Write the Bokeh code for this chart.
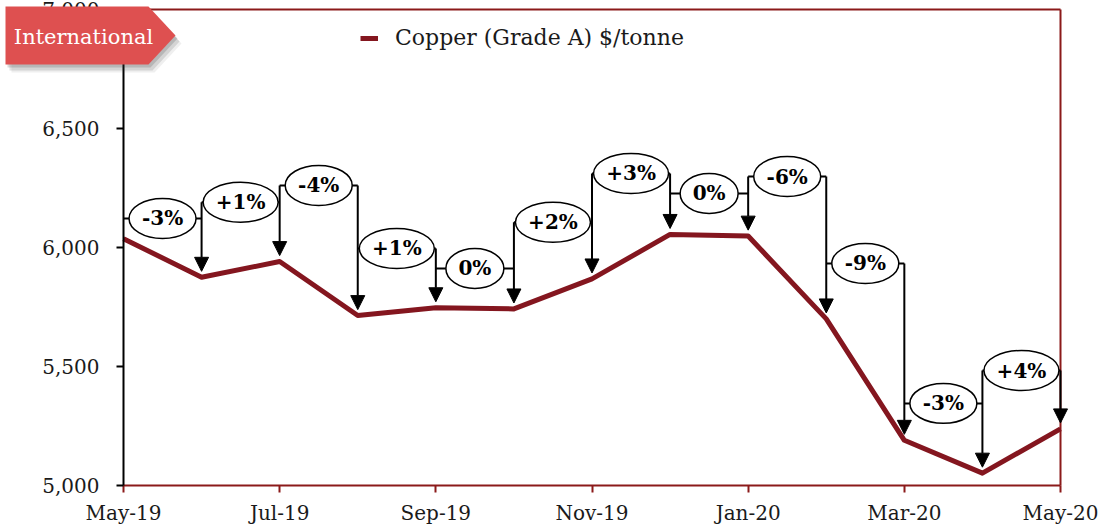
from bokeh.plotting import figure
from bokeh.models import (Range1d, FixedTicker, ColumnDataSource, Arrow, NormalHead,
                          Label, NumeralTickFormatter, PolyAnnotation)
from bokeh.core.properties import value
from bokeh.embed import file_html
from bokeh.resources import INLINE

# ---- data ----
months = ["May-19", "Jun-19", "Jul-19", "Aug-19", "Sep-19", "Oct-19", "Nov-19",
          "Dec-19", "Jan-20", "Feb-20", "Mar-20", "Apr-20", "May-20"]
copper = [6037, 5875, 5941, 5714, 5747, 5742, 5868, 6055, 6048, 5700, 5190, 5052, 5238]
pct_labels = ["-3%", "+1%", "-4%", "+1%", "0%", "+2%", "+3%", "0%", "-6%", "-9%", "-3%", "+4%"]
label_levels = [6122, 6190, 6261, 5996, 5912, 6106, 6311, 6227, 6298, 5933, 5345, 5483]
y_ticks = [5000, 5500, 6000, 6500, 7000]
series_name = "Copper (Grade A) $/tonne"
badge_text = "International"

FONT = "DejaVu Serif"
DARKRED = "#8B1A1A"
LINECOL = "#84161F"
BADGE = "#DE5050"

# ---- layout (pixels) ----
W, H = 1103, 525
X0_PX, X1_PX = 123, 1060      # pixel of first / last month
Y_TOP_PX, Y_BOT_PX = 9, 485   # pixel of 7000 / 5000
YMIN, YMAX = 5000, 7000

x = list(range(len(months)))
nx = len(months) - 1
ppx = (X1_PX - X0_PX) / nx
ppy = (Y_BOT_PX - Y_TOP_PX) / (YMAX - YMIN)
x_start = -X0_PX / ppx
x_end = nx + (W - X1_PX) / ppx
y_end = YMAX + Y_TOP_PX / ppy
y_start = YMIN - (H - Y_BOT_PX) / ppy


def px2x(px):
    return x_start + px / ppx


def py2y(py):
    return y_end - py / ppy


p = figure(width=W, height=H, x_range=Range1d(x_start, x_end),
           y_range=Range1d(y_start, y_end), output_backend="svg", toolbar_location=None,
           min_border=0)

p.xgrid.visible = False
p.ygrid.visible = False
p.outline_line_color = None
p.background_fill_color = "white"
p.border_fill_color = "white"

# axes (drawn at fixed data locations)
p.yaxis.fixed_location = 0
p.yaxis.bounds = (YMIN, YMAX)
p.yaxis.ticker = FixedTicker(ticks=y_ticks)
p.yaxis.formatter = NumeralTickFormatter(format="0,0")
p.yaxis.axis_line_color = "black"
p.yaxis.axis_line_width = 2
p.yaxis.major_tick_line_color = "black"
p.yaxis.major_tick_line_width = 2
p.yaxis.major_tick_out = 7
p.yaxis.major_tick_in = 0
p.yaxis.minor_tick_line_color = None
p.yaxis.major_label_standoff = 17
p.yaxis.major_label_text_font = FONT
p.yaxis.major_label_text_font_size = "20px"
p.yaxis.major_label_text_color = "#1a1a1a"

p.xaxis.fixed_location = YMIN
p.xaxis.bounds = (0, nx)
p.xaxis.ticker = FixedTicker(ticks=x[::2])
p.xaxis.major_label_overrides = {i: months[i] for i in x[::2]}
p.xaxis.axis_line_color = DARKRED
p.xaxis.axis_line_width = 2
p.xaxis.major_tick_line_color = DARKRED
p.xaxis.major_tick_line_width = 2
p.xaxis.major_tick_out = 7
p.xaxis.major_tick_in = 0
p.xaxis.minor_tick_line_color = None
p.xaxis.major_label_standoff = 8
p.xaxis.major_label_text_font = FONT
p.xaxis.major_label_text_font_size = "20px"
p.xaxis.major_label_text_color = "#1a1a1a"

# plot-area border (top and right)
p.segment(x0=[0, nx], y0=[YMAX, YMIN], x1=[nx, nx], y1=[YMAX, YMAX],
          line_color=DARKRED, line_width=2)

# main line
p.line(x, copper, line_color=LINECOL, line_width=5, line_join="round", legend_label=series_name)

# brackets: horizontal segments
n = len(pct_labels)
p.segment(x0=[i for i in range(n)], y0=label_levels, x1=[i + 1 for i in range(n)],
          y1=label_levels, line_color="black", line_width=2)

# vertical arrows at each point j>=1
tip_gap = 25
xs_a, ys_start, ys_end = [], [], []
for j in range(1, len(months)):
    tops = [label_levels[j - 1]]
    if j < n:
        tops.append(label_levels[j])
    xs_a.append(j)
    ys_start.append(max(tops))
    ys_end.append(copper[j] + tip_gap)
asrc = ColumnDataSource(dict(x=xs_a, ys=ys_start, ye=ys_end))
p.add_layout(Arrow(end=NormalHead(size=14, fill_color="black", line_color="black", line_width=1),
                   x_start="x", y_start="ys", x_end="x", y_end="ye", source=asrc,
                   line_color="black", line_width=2))

# ellipses with labels
cw = {"+": 17, "-": 9, "%": 20}
widths = [24 + sum(cw.get(c, 14) for c in t) for t in pct_labels]
esrc = ColumnDataSource(dict(x=[i + 0.5 for i in range(n)], y=label_levels, w=widths, t=pct_labels))
p.ellipse(x="x", y="y", width="w", height=40, width_units="screen", height_units="screen",
          fill_color="white", line_color="black", line_width=1.5, source=esrc)
p.text(x="x", y="y", text="t", source=esrc, text_align="center", text_baseline="middle",
       text_font=value(FONT), text_font_style="bold", text_font_size="20px", text_color="black")

# legend
p.legend.location = (360, 475)
p.legend.border_line_color = None
p.legend.background_fill_alpha = 0
p.legend.padding = 0
p.legend.margin = 0
p.legend.glyph_width = 18
p.legend.label_standoff = 17
p.legend.label_text_font = FONT
p.legend.label_text_font_size = "22px"
p.legend.label_text_color = "#1a1a1a"

# "International" badge (pixel outline converted to data space)
badge_px = [(5, 6), (148, 6), (175, 35), (148, 64), (5, 64)]
for dx, dy, a in [(2, 3, 0.18), (4, 6, 0.14), (6, 8, 0.08)]:
    p.add_layout(PolyAnnotation(xs=[px2x(u + dx) for u, v in badge_px],
                                ys=[py2y(v + dy) for u, v in badge_px],
                                fill_color="#333333", fill_alpha=a, line_color=None))
p.add_layout(PolyAnnotation(xs=[px2x(u) for u, v in badge_px], ys=[py2y(v) for u, v in badge_px],
                            fill_color=BADGE, fill_alpha=1, line_color=None))
p.add_layout(Label(x=px2x(83), y=py2y(36), text=badge_text,
                   text_align="center", text_baseline="middle", text_font=FONT,
                   text_font_size="21px", text_color="white"))

open("out.html", "w").write(file_html(p, INLINE))
